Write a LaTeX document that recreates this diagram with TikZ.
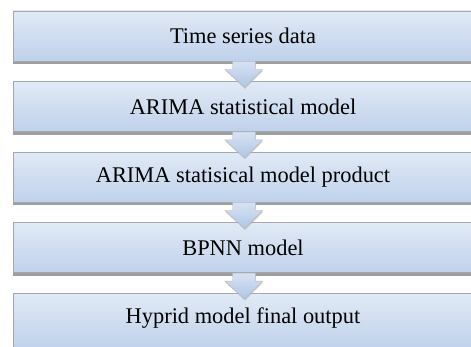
\documentclass[tikz,border=0pt]{standalone}
\usepackage{fontspec}
\setmainfont{Liberation Serif}
\usetikzlibrary{positioning,shadows}
\definecolor{boxTop}{HTML}{E1EAF6}
\definecolor{boxBottom}{HTML}{BFD1EB}
\definecolor{boxLine}{HTML}{A4A6B0}
\definecolor{arrowTop}{HTML}{D6E2F2}
\definecolor{arrowBottom}{HTML}{AFC6E6}
\begin{document}
\begin{tikzpicture}[
    stage/.style={draw=boxLine, line width=0.6pt, top color=boxTop, bottom color=boxBottom,
      minimum width=460pt, minimum height=50pt, inner sep=0pt,
      font=\fontsize{22.4}{26}\selectfont,
      drop shadow={shadow xshift=0pt, shadow yshift=-3pt, fill=gray!85, opacity=0.9}},
    flow/.style={draw=boxLine!80, line width=0.4pt, top color=arrowTop, bottom color=arrowBottom,
      drop shadow={shadow xshift=0.5pt, shadow yshift=-1.5pt, fill=gray!60, opacity=0.6}},
    node distance=20pt
  ]
    \newcommand{\flowArrow}[2]{
        \draw[flow] ([xshift=-10.5pt]#1.south) -- ++(0,-8pt) -- ++(-7.5pt,0)
          -- ([xshift=1.5pt,yshift=-6pt]#2.north) -- ([xshift=19.5pt,yshift=-8pt]#1.south)
          -- ++(-7.5pt,0) -- ([xshift=12.5pt]#1.south) -- cycle;
    }
  \useasboundingbox (0,0) rectangle (471pt,-347pt);

  \node[stage] (data) at (243pt,-36pt) {Time series data};
  \node[stage, below=of data] (arima) {ARIMA statistical model};
  \node[stage, below=of arima] (product) {ARIMA statisical model product};
  \node[stage, below=of product] (bpnn) {BPNN model};
  \node[stage, below=of bpnn, minimum height=56pt, text height=15pt, text depth=11pt] (output)
    {Hyprid model final output};

  \flowArrow{data}{arima}
  \flowArrow{arima}{product}
  \flowArrow{product}{bpnn}
  \flowArrow{bpnn}{output}
\end{tikzpicture}
\end{document}
